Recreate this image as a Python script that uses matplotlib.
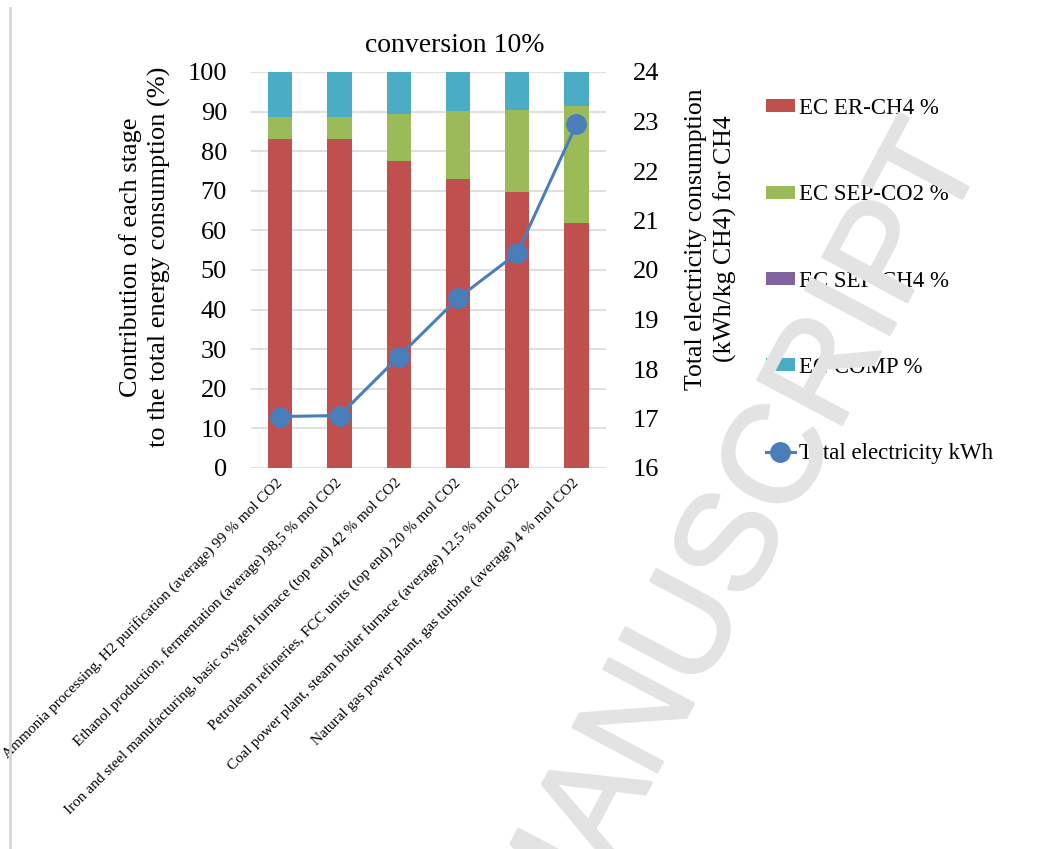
import matplotlib
matplotlib.use("Agg")
import matplotlib.pyplot as plt
import matplotlib.patheffects as pe
from matplotlib.lines import Line2D
import numpy as np

plt.rcParams['font.family'] = ['Liberation Serif', 'DejaVu Serif']

# ---- data: share of each stage (%) and total electricity (kWh/kg CH4)
sources = ["Ammonia processing, H2 purification (average) 99 % mol CO2",
           "Ethanol production, fermentation (average) 98,5 % mol CO2",
           "Iron and steel manufacturing, basic oxygen furnace (top end) 42 % mol CO2",
           "Petroleum refineries, FCC units (top end) 20 % mol CO2",
           "Coal power plant, steam boiler furnace (average) 12,5 % mol CO2",
           "Natural gas power plant, gas turbine (average) 4 % mol CO2"]
ec_er_ch4 = [83.1, 83.1, 77.6, 73.0, 69.7, 61.8]
ec_sep_co2 = [5.6, 5.6, 11.8, 17.1, 20.7, 29.7]
ec_sep_ch4 = [0.0, 0.0, 0.0, 0.0, 0.0, 0.0]
ec_comp = [11.3, 11.3, 10.6, 9.9, 9.6, 8.5]
total_kwh = [17.04, 17.06, 18.25, 19.43, 20.34, 22.94]

series = [(ec_er_ch4, '#C0504D', 'EC ER-CH4 %'),
          (ec_sep_co2, '#9BBB59', 'EC SEP-CO2 %'),
          (ec_sep_ch4, '#8064A2', 'EC SEP-CH4 %'),
          (ec_comp, '#4BACC6', 'EC COMP %')]

W, H = 1046, 849
fig = plt.figure(figsize=(W / 100, H / 100), dpi=100)
ax = fig.add_axes([250.7 / W, 1 - 468 / H, (606 - 250.7) / W, (468 - 72) / H])

x = np.arange(len(sources))
bottom = np.zeros(len(sources))
handles = []
for vals, col, lab in series:
    b = ax.bar(x, vals, width=0.41, bottom=bottom, color=col, label=lab, zorder=2)
    bottom += np.array(vals)
    handles.append(b)

ax.set_xlim(-0.5, len(sources) - 0.5)
ax.set_ylim(0, 100)
ax.set_yticks(np.arange(0, 101, 10))
ax.yaxis.grid(True, color='#D9D9D9', lw=1.2, zorder=0)
ax.set_axisbelow(True)
for s in ax.spines.values():
    s.set_visible(False)
ax.tick_params(axis='y', length=0, pad=17, labelsize=19)
ax.tick_params(axis='x', length=0, pad=9)
ax.set_xticks(x)
ax.set_xticklabels(sources, rotation=45, ha='right', va='center',
                   rotation_mode='anchor', fontsize=11)

ax2 = ax.twinx()
ln, = ax2.plot(x, total_kwh, color='#4A7EBB', lw=2.2, marker='o', ms=14,
               label='Total electricity kWh', zorder=3)
ax2.set_ylim(16, 24)
ax2.set_yticks(np.arange(16, 25, 1))
for s in ax2.spines.values():
    s.set_visible(False)
ax2.tick_params(axis='y', length=0, pad=19, labelsize=19)

fig.text(455 / W, 1 - 45 / H, 'conversion 10%', ha='center', va='center', fontsize=20)
fig.text(145 / W, 1 - 257 / H,
         'Contribution of each stage\nto the total energy consumption (%)',
         rotation=90, ha='center', va='center', multialignment='center',
         fontsize=19, linespacing=1.3)
fig.text(711 / W, 1 - 239 / H,
         'Total electricity consumption\n(kWh/kg CH4) for CH4',
         rotation=90, ha='center', va='center', multialignment='center',
         fontsize=18.5, linespacing=1.35)

fig.legend(handles + [ln], [h.get_label() for h in handles] + [ln.get_label()],
           loc='upper left', bbox_to_anchor=(766 / W, 1 - 98 / H),
           frameon=False, fontsize=16.5, borderpad=0, borderaxespad=0,
           labelspacing=2.85, handlelength=1.25, handleheight=0.5,
           handletextpad=0.2)

# page edge and watermark
fig.add_artist(Line2D([10 / W, 10 / W], [0, 1 - 8 / H], transform=fig.transFigure,
                      color='#D6D6D6', lw=2))
fig.text(554 / W, 1 - 966 / H, 'MANUSCRIPT', rotation=62, rotation_mode='anchor',
         ha='left', va='baseline', fontsize=100,
         family='Liberation Sans', color='#E3E3E3', zorder=10,
         path_effects=[pe.withStroke(linewidth=2, foreground='#E3E3E3')])

fig.savefig('out.png', dpi=100)
